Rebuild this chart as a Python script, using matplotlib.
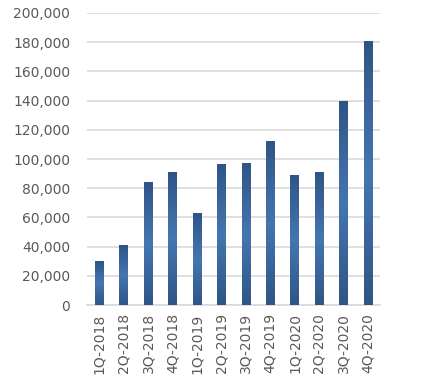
import numpy as np
import matplotlib
matplotlib.use("Agg")
from matplotlib import pyplot as plt
from matplotlib.colors import LinearSegmentedColormap
from matplotlib.ticker import FuncFormatter

# data
quarters = ["1Q-2018", "2Q-2018", "3Q-2018", "4Q-2018",
            "1Q-2019", "2Q-2019", "3Q-2019", "4Q-2019",
            "1Q-2020", "2Q-2020", "3Q-2020", "4Q-2020"]
values = [30000, 41000, 84000, 91000,
          63000, 96000, 97000, 112000,
          89000, 91000, 139500, 180500]

text_col = "#595959"
grid_col = "#D9D9D9"

fig = plt.figure(figsize=(4.21, 3.89), dpi=100)
ax = fig.add_axes([0.2067, 0.2159, 0.6959, 0.7507])

x = np.arange(len(quarters))
width = 0.34
bars = ax.bar(x, values, width=width, color="none", zorder=3)

# vertical gradient: dark at top and bottom, lighter in the middle
cmap = LinearSegmentedColormap.from_list("bar", ["#2F5586", "#4576B0", "#2F5586"])
grad = np.linspace(0, 1, 256).reshape(-1, 1)
for b in bars:
    x0, y0 = b.get_x(), b.get_y()
    ax.imshow(grad, cmap=cmap, aspect="auto", origin="lower",
              extent=[x0, x0 + b.get_width(), y0, y0 + b.get_height()],
              zorder=3, interpolation="bicubic")

ax.set_xlim(-0.5, len(quarters) - 0.5)
ax.set_ylim(0, 200000)
ax.set_yticks(np.arange(0, 200001, 20000))
ax.yaxis.set_major_formatter(FuncFormatter(lambda v, p: f"{int(v):,}"))
ax.set_xticks(x)
ax.set_xticklabels(quarters, rotation=90)

ax.grid(axis="y", color=grid_col, linewidth=1.2, zorder=0)
for s in ["top", "right", "left"]:
    ax.spines[s].set_visible(False)
ax.spines["bottom"].set_color(grid_col)
ax.spines["bottom"].set_linewidth(1.2)
ax.tick_params(axis="both", length=0, colors=text_col, labelsize=10)
ax.tick_params(axis="y", pad=12)
ax.tick_params(axis="x", pad=6)

fig.savefig("out.png", dpi=100)
